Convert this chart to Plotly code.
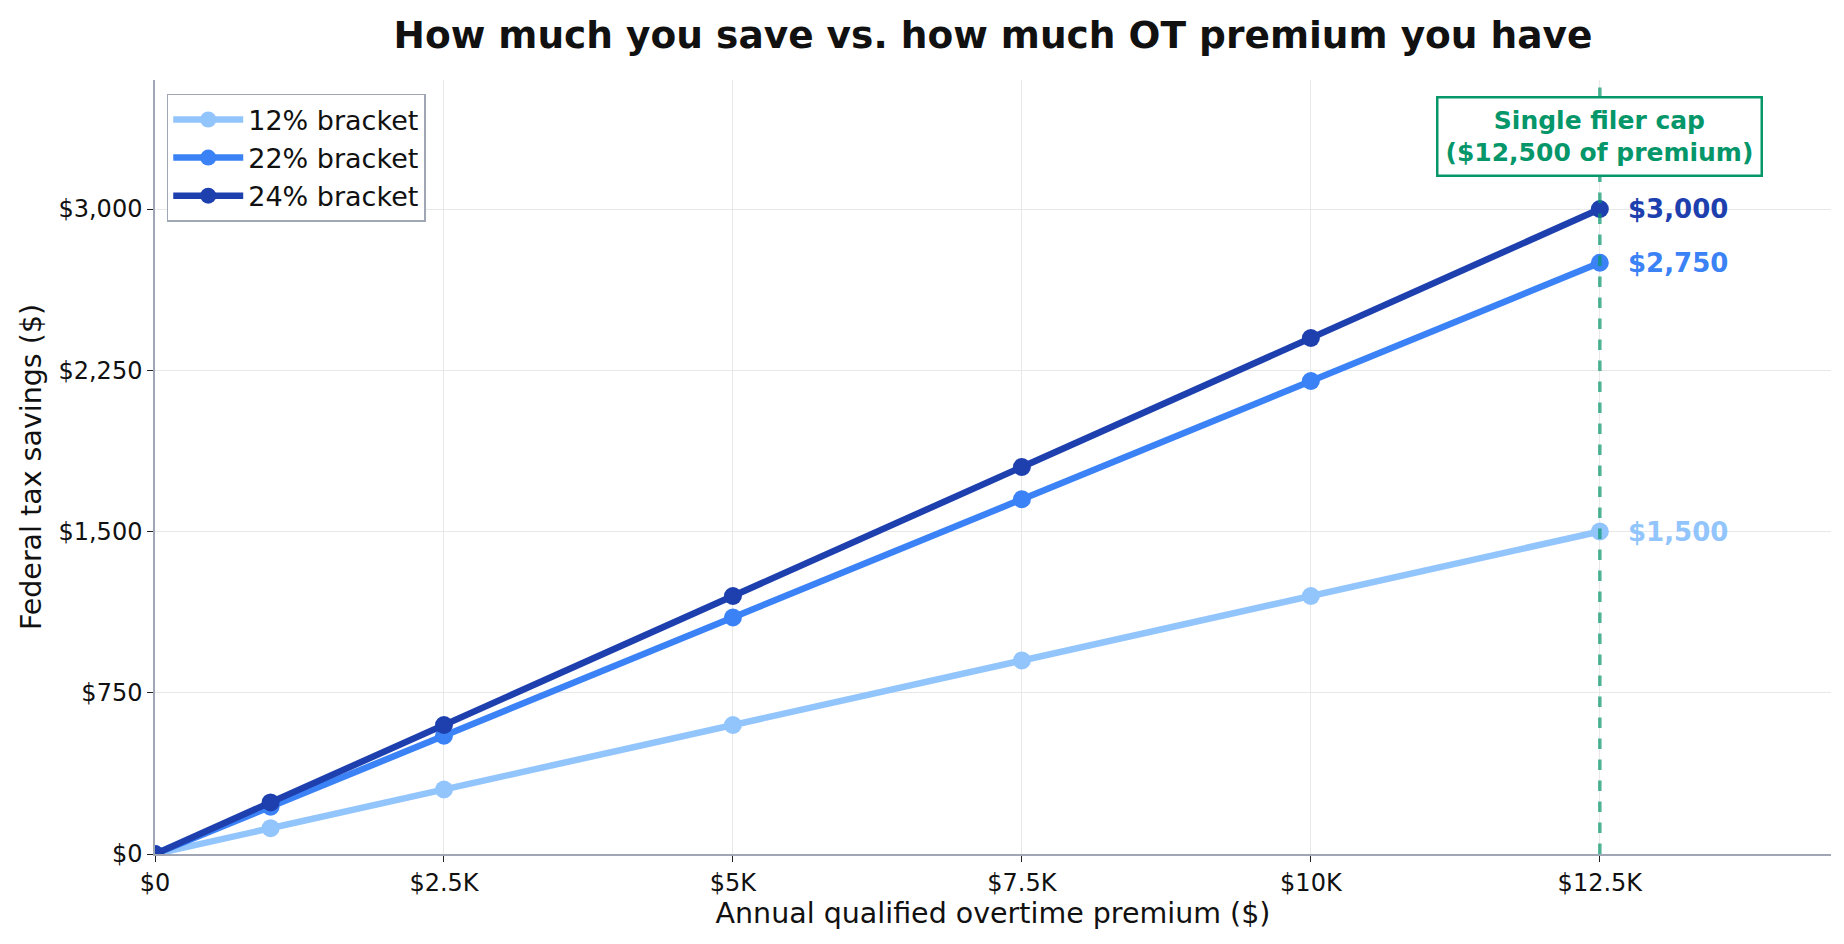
import plotly.graph_objects as go

# overtime premium ($) and federal tax savings ($) per bracket
premium = [0, 1000, 2500, 5000, 7500, 10000, 12500]
save_12 = [0, 120, 300, 600, 900, 1200, 1500]
save_22 = [0, 220, 550, 1100, 1650, 2200, 2750]
save_24 = [0, 240, 600, 1200, 1800, 2400, 3000]

series_names = ["12% bracket", "22% bracket", "24% bracket"]
series_colors = ["#93c5fd", "#3b82f6", "#1e40af"]
end_labels = ["$1,500", "$2,750", "$3,000"]

cap_value = 12500
cap_text = "Single filer cap<br>($12,500 of premium)"
cap_label_y = 3335

x_tickvals = [0, 2500, 5000, 7500, 10000, 12500]
x_ticktext = ["$0", "$2.5K", "$5K", "$7.5K", "$10K", "$12.5K"]
y_tickvals = [0, 750, 1500, 2250, 3000]
y_ticktext = ["$0", "$750", "$1,500", "$2,250", "$3,000"]

FONT = "DejaVu Sans"

fig = go.Figure()

#Lines with markers
for name, vals, color in zip(series_names, [save_12, save_22, save_24], series_colors):
    fig.add_trace(go.Scatter(
        x=premium, y=vals, name=name, mode="lines+markers",
        line=dict(color=color, width=6.5),
        marker=dict(color=color, size=18),
    ))

#Cap line
fig.add_vline(x=cap_value, line=dict(color="rgba(5,150,105,0.7)", width=3.5, dash="dash"))

#Cap label box
fig.add_annotation(
    x=cap_value, y=cap_label_y, xref="x", yref="y",
    text=f"<b>{cap_text}</b>", showarrow=False,
    font=dict(family=FONT, size=25, color="#059669"),
    bgcolor="white", bordercolor="#059669", borderwidth=2.5, borderpad=7,
    align="center",
)

#End value labels
for vals, color, lab in zip([save_12, save_22, save_24], series_colors, end_labels):
    fig.add_annotation(
        x=premium[-1], y=vals[-1], xref="x", yref="y",
        text=f"<b>{lab}</b>", showarrow=False,
        xanchor="left", yanchor="middle", xshift=26,
        font=dict(family=FONT, size=26, color=color),
    )

fig.update_layout(
    width=1844, height=944,
    paper_bgcolor="white", plot_bgcolor="white",
    margin=dict(l=147, r=21, t=72, b=98),
    font=dict(family=FONT, size=20, color="#111111"),
    title=dict(
        text="<b>How much you save vs. how much OT premium you have</b>",
        xref="paper", x=0.5, xanchor="center", y=0.972, yanchor="middle",
        font=dict(family=FONT, size=37.5, color="#111111"),
    ),
    legend=dict(
        x=0.007, y=0.982, xanchor="left", yanchor="top",
        bgcolor="white", bordercolor="#a0a6b3", borderwidth=1.5,
        font=dict(family=FONT, size=27, color="#111111"),
        itemwidth=70,
    ),
    showlegend=True,
)

fig.update_xaxes(
    range=[0, 14500],
    tickvals=x_tickvals, ticktext=x_ticktext,
    showgrid=True, gridcolor="#e8e8e8", gridwidth=1,
    showline=True, linecolor="#a0a6b3", linewidth=1.5,
    ticks="outside", ticklen=6, tickcolor="#222222",
    zeroline=False,
    title=dict(text="Annual qualified overtime premium ($)", font=dict(family=FONT, size=28.5), standoff=5),
    tickfont=dict(size=24),
)
fig.update_yaxes(
    range=[0, 3600],
    tickvals=y_tickvals, ticktext=y_ticktext,
    showgrid=True, gridcolor="#e8e8e8", gridwidth=1,
    showline=True, linecolor="#a0a6b3", linewidth=1.5,
    ticks="outside", ticklen=6, tickcolor="#222222",
    zeroline=False,
    title=dict(text="Federal tax savings ($)", font=dict(family=FONT, size=28.5), standoff=8),
    tickfont=dict(size=24),
)

fig.write_html("out.html")
